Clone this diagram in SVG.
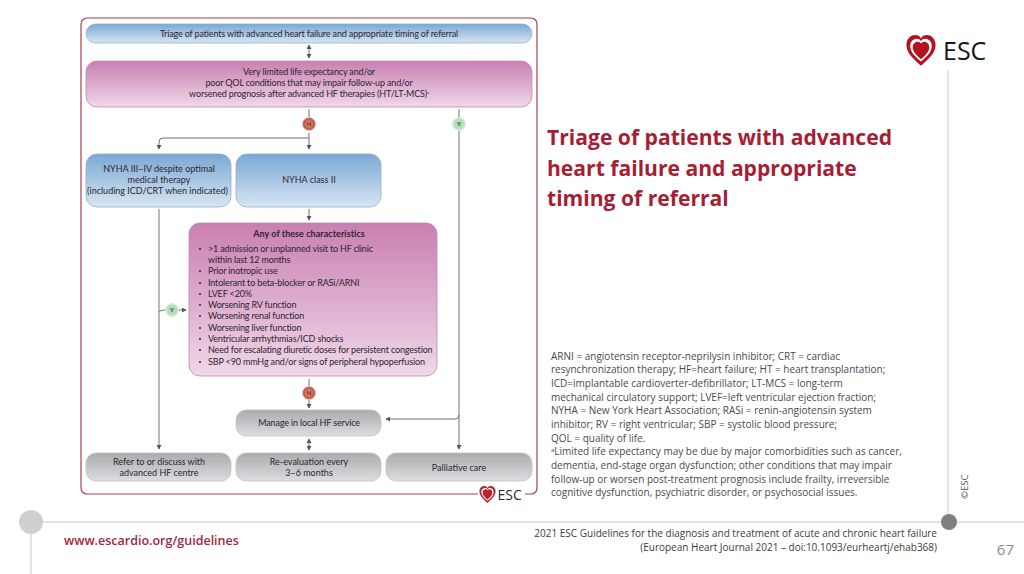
<svg xmlns="http://www.w3.org/2000/svg" width="1024" height="574" viewBox="0 0 1024 574">
<style>
.t{font-family:"Lato","Open Sans",sans-serif;fill:#2e2630;font-size:9px;letter-spacing:-.15px;text-anchor:middle}
.l{text-anchor:start}
.b{font-weight:700;letter-spacing:.05px}
.w{letter-spacing:0}
.c{fill:none;stroke:#6f6f6f;stroke-width:1}
.g{fill:none;stroke:#a8a8a8;stroke-width:1.6}
.s{fill:none;stroke:#dcdcdc;stroke-width:1.5}
.n{font-family:"Open Sans","Noto Sans",sans-serif;fill:#4a4a4a;font-size:10px}
.b1{stroke:#8fb0cd;stroke-width:.8}
.p1{stroke:#bd88ae;stroke-width:.8}
.g1{stroke:#c0c0c0;stroke-width:.8}
.bd{font-family:"Lato","Open Sans",sans-serif;font-size:6px;font-weight:700;text-anchor:middle}
</style>
<defs>
<linearGradient id="blue" x1="0" y1="0" x2="0" y2="1"><stop offset="0" stop-color="#7aa8d4"/><stop offset="1" stop-color="#d8e6f3"/></linearGradient>
<linearGradient id="pink" x1="0" y1="0" x2="0" y2="1"><stop offset="0" stop-color="#c97fb2"/><stop offset="1" stop-color="#f0d8e8"/></linearGradient>
<linearGradient id="grey" x1="0" y1="0" x2="0" y2="1"><stop offset="0" stop-color="#a9abae"/><stop offset="1" stop-color="#dcdddf"/></linearGradient>
<radialGradient id="red"><stop offset="0" stop-color="#e9a58f"/><stop offset="1" stop-color="#b8452f"/></radialGradient>
<radialGradient id="green"><stop offset="0" stop-color="#a9d5ae"/><stop offset=".75" stop-color="#b9dfbd"/><stop offset="1" stop-color="#e3f2e4"/></radialGradient>
<marker id="ah" markerWidth="5" markerHeight="5" refX="4" refY="2.5" orient="auto-start-reverse" markerUnits="userSpaceOnUse"><path d="M0 0L4.5 2.5L0 5z" fill="#555"/></marker>
<path id="heart" d="M0 10C-3 7 -9 3 -9 -3C-9 -7 -6 -9 -3.5 -9C-2 -9 -0.8 -8.5 0 -6.8C0.8 -8.5 2 -9 3.5 -9C6 -9 9 -7 9 -3C9 3 3 7 0 10Z"/>
</defs>
<rect width="1024" height="574" fill="#fff"/>

<g id="slide-frame">
<path class="s" d="M38 522H1024M948 70V522M31 522V574"/>
<circle cx="31" cy="522" r="12" fill="#cfcfcf"/>
<circle cx="949" cy="522" r="8" fill="#808080"/>
</g>

<g id="logo-top">
<use href="#heart" transform="translate(921,49.500) scale(1.62)" fill="#b5121f"/>
<use href="#heart" transform="translate(921,49.500) scale(1.2)" fill="#fff"/>
<use href="#heart" transform="translate(921,50) scale(.92)" fill="#b5121f"/>
<text x="943" y="60" font-family="'Open Sans',sans-serif" font-size="25" fill="#161616">ESC</text>
</g>

<g id="frame">
<rect x="81" y="18" width="456" height="476" rx="6" fill="#fff" stroke="#a8404e" stroke-width="1.2"/>
<rect x="478" y="486" width="47" height="16" fill="#fff"/>
</g>

<g id="connectors">
<path class="c" d="M309 45V58" marker-end="url(#ah)" marker-start="url(#ah)"/>
<path class="c" d="M309 109V118"/>
<path class="c" d="M309 133V149" marker-end="url(#ah)"/>
<path class="c" d="M309 138H163Q159 138 159 142V149" marker-end="url(#ah)"/>
<path class="c" d="M309 209V220" marker-end="url(#ah)"/>
<path class="c" d="M309 379V386"/>
<path class="c" d="M309 400V408" marker-end="url(#ah)"/>
<path class="c" d="M309 439V450" marker-end="url(#ah)" marker-start="url(#ah)"/>
<path class="c" d="M459 109V118"/>
<path class="g" d="M459 131V446"/>
<path class="c" d="M459 446V449" marker-end="url(#ah)"/>
<path class="c" d="M459 415Q459 419 455 419H386" marker-end="url(#ah)"/>
<path class="g" d="M159 209V446"/>
<path class="c" d="M159 446V449" marker-end="url(#ah)"/>
<path class="c" d="M159 312Q160 310 165 310"/>
<path class="c" d="M178 310H186" marker-end="url(#ah)"/>
</g>

<g id="n-triage"><rect class="b1" x="86" y="24" width="446" height="19" rx="9.500" fill="url(#blue)"/><text class="t" x="309" y="36.500">Triage of patients with advanced heart failure and appropriate timing of referral</text></g>
<g id="n-limited"><rect class="p1" x="86" y="61" width="446" height="46" rx="11" fill="url(#pink)"/>
<text class="t" x="309" y="75">Very limited life expectancy and/or</text>
<text class="t" x="309" y="86">poor QOL conditions that may impair follow-up and/or</text>
<text class="t" x="309" y="97">worsened prognosis after advanced HF therapies (HT/LT-MCS)<tspan font-size="4" dy="-3">a</tspan></text></g>
<g id="n-badge-n1"><circle cx="309" cy="124" r="6.500" fill="url(#red)" stroke="#e8c4b8" stroke-width="1"/><text class="bd" x="309" y="126" fill="#5a1a10">N</text></g>
<g id="n-badge-y1"><circle cx="459" cy="124" r="6.500" fill="url(#green)" stroke="#d4ead6" stroke-width="1"/><text class="bd" x="459" y="126" fill="#1f5a2a">Y</text></g>
<g id="n-nyha34"><rect class="b1" x="86" y="154" width="145" height="53" rx="11" fill="url(#blue)"/>
<text class="t w" x="159" y="172">NYHA III–IV despite optimal</text>
<text class="t w" x="159" y="183">medical therapy</text>
<text class="t w" x="157.500" y="194">(including ICD/CRT when indicated)</text></g>
<g id="n-nyha2"><rect class="b1" x="236" y="154" width="145" height="53" rx="11" fill="url(#blue)"/><text class="t w" x="309" y="183">NYHA class II</text></g>
<g id="n-any"><rect class="p1" x="189" y="223" width="248" height="153" rx="11" fill="url(#pink)"/>
<text class="t b" x="309" y="237">Any of these characteristics</text>
<g>
<text class="t l" x="208" y="252">&gt;1 admission or unplanned visit to HF clinic</text>
<text class="t l" x="208" y="263">within last 12 months</text>
<text class="t l" x="208" y="274">Prior inotropic use</text>
<text class="t l" x="208" y="286">Intolerant to beta-blocker or RASi/ARNI</text>
<text class="t l" x="208" y="297">LVEF &lt;20%</text>
<text class="t l" x="208" y="308">Worsening RV function</text>
<text class="t l" x="208" y="319">Worsening renal function</text>
<text class="t l" x="208" y="331">Worsening liver function</text>
<text class="t l" x="208" y="342">Ventricular arrhythmias/ICD shocks</text>
<text class="t l" x="208" y="353">Need for escalating diuretic doses for persistent congestion</text>
<text class="t l" x="208" y="365">SBP &lt;90 mmHg and/or signs of peripheral hypoperfusion</text>
</g>
<g fill="#2e2630">
<circle cx="200" cy="249" r="1"/><circle cx="200" cy="271" r="1"/><circle cx="200" cy="283" r="1"/><circle cx="200" cy="294" r="1"/><circle cx="200" cy="305" r="1"/><circle cx="200" cy="316" r="1"/><circle cx="200" cy="328" r="1"/><circle cx="200" cy="339" r="1"/><circle cx="200" cy="350" r="1"/><circle cx="200" cy="362" r="1"/>
</g></g>
<g id="n-badge-y2"><circle cx="172" cy="310" r="6.500" fill="url(#green)" stroke="#d4ead6" stroke-width="1"/><text class="bd" x="172" y="312" fill="#1f5a2a">Y</text></g>
<g id="n-badge-n2"><circle cx="309" cy="393" r="6.500" fill="url(#red)" stroke="#e8c4b8" stroke-width="1"/><text class="bd" x="309" y="395" fill="#5a1a10">N</text></g>
<g id="n-manage"><rect class="g1" x="236" y="410" width="145" height="26" rx="10" fill="url(#grey)"/><text class="t" x="309" y="426">Manage in local HF service</text></g>
<g id="n-refer"><rect class="g1" x="86" y="453" width="145" height="28" rx="10" fill="url(#grey)"/><text class="t w" x="159" y="465">Refer to or discuss with</text><text class="t w" x="159" y="476">advanced HF centre</text></g>
<g id="n-reeval"><rect class="g1" x="236" y="453" width="145" height="28" rx="10" fill="url(#grey)"/><text class="t w" x="309" y="465">Re-evaluation every</text><text class="t w" x="309" y="476">3–6 months</text></g>
<g id="n-palliative"><rect class="g1" x="386" y="453" width="146" height="28" rx="10" fill="url(#grey)"/><text class="t w" x="459" y="471">Palliative care</text></g>

<g id="logo-chart">
<use href="#heart" transform="translate(487.500,494) scale(.9)" fill="#a8323e"/>
<use href="#heart" transform="translate(487.500,494) scale(.68)" fill="#fff"/>
<use href="#heart" transform="translate(487.500,494) scale(.54)" fill="#c0202c"/>
<text x="497.500" y="499.500" font-family="'Open Sans',sans-serif" font-size="14" fill="#2a2a2a">ESC</text>
</g>

<g id="title" font-family="'Open Sans','Noto Sans',sans-serif" font-weight="700" font-size="21.100" fill="#a71e34">
<text x="547" y="145">Triage of patients with advanced</text>
<text x="547" y="176">heart failure and appropriate</text>
<text x="547" y="206">timing of referral</text>
</g>

<g id="notes" class="n">
<text x="551" y="359.500">ARNI = angiotensin receptor-neprilysin inhibitor; CRT = cardiac</text>
<text x="551" y="373">resynchronization therapy; HF=heart failure; HT = heart transplantation;</text>
<text x="551" y="387">ICD=implantable cardioverter-defibrillator; LT-MCS = long-term</text>
<text x="551" y="400.500">mechanical circulatory support; LVEF=left ventricular ejection fraction;</text>
<text x="551" y="414">NYHA = New York Heart Association; RASi = renin-angiotensin system</text>
<text x="551" y="428">inhibitor; RV = right ventricular; SBP = systolic blood pressure;</text>
<text x="551" y="441.500">QOL = quality of life.</text>
<text x="551" y="455"><tspan font-size="6" dy="-3">a</tspan><tspan dy="3">Limited life expectancy may be due by major comorbidities such as cancer,</tspan></text>
<text x="551" y="469">dementia, end-stage organ dysfunction; other conditions that may impair</text>
<text x="551" y="482.500">follow-up or worsen post-treatment prognosis include frailty, irreversible</text>
<text x="551" y="496">cognitive dysfunction, psychiatric disorder, or psychosocial issues.</text>
</g>

<text x="0" y="0" transform="translate(968,499) rotate(-90)" font-family="'Open Sans',sans-serif" font-size="9.500" fill="#555">©ESC</text>

<g id="footer">
<text x="64" y="545" font-family="'Open Sans','Noto Sans',sans-serif" font-weight="600" font-size="12.500" fill="#a3263c">www.escardio.org/guidelines</text>
<g font-family="'Open Sans','Noto Sans',sans-serif" font-size="10" fill="#3c3c3c" text-anchor="end">
<text x="937" y="537">2021 ESC Guidelines for the diagnosis and treatment of acute and chronic heart failure</text>
<text x="937" y="551">(European Heart Journal 2021 – doi:10.1093/eurheartj/ehab368)</text>
</g>
<text x="1014" y="555" font-family="'Open Sans',sans-serif" font-size="15" fill="#8a8a8a" text-anchor="end">67</text>
</g>
</svg>
